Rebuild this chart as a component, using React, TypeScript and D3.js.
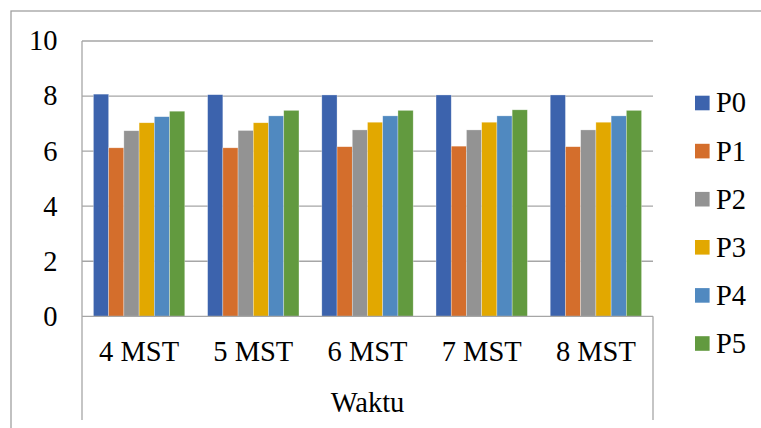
import React from "react";
import * as d3 from "d3";

const categories = ["4 MST", "5 MST", "6 MST", "7 MST", "8 MST"];
const seriesNames = ["P0", "P1", "P2", "P3", "P4", "P5"];
const P0 = [8.07, 8.05, 8.04, 8.04, 8.04];
const P1 = [6.12, 6.12, 6.16, 6.18, 6.16];
const P2 = [6.74, 6.75, 6.77, 6.77, 6.77];
const P3 = [7.03, 7.03, 7.05, 7.05, 7.05];
const P4 = [7.25, 7.28, 7.28, 7.28, 7.28];
const P5 = [7.45, 7.48, 7.48, 7.5, 7.48];
const seriesValues = [P0, P1, P2, P3, P4, P5];
const colors = ["#3C63AD", "#D46E2C", "#939393", "#E2A800", "#5089C0", "#629A3F"];
const yTicks = [0, 2, 4, 6, 8, 10];
const axisTitle = "Waktu";

const W = 761;
const H = 428;
const left = 82;
const right = 653;
const top = 41;
const bottom = 316.3;
const axisBoxBottom = 420;
const textStyle = { fontFamily: "'Liberation Serif', 'DejaVu Serif', serif" } as React.CSSProperties;
const fs = 28.5;
const gridColor = "#a6a6a6";

export default function App() {
  const y = d3.scaleLinear().domain([0, 10]).range([bottom, top]);
  const x0 = d3.scaleBand<string>().domain(categories).range([left, right]).paddingInner(0.2).paddingOuter(0.1);
  const x1 = d3.scaleBand<string>().domain(seriesNames).range([0, x0.bandwidth()]);
  const legendY = d3.scalePoint<string>().domain(seriesNames).range([103, 343.5]);

  return (
    <svg width={W} height={H} style={{ position: "absolute", left: 0, top: 0 }}>
      <rect x={0} y={0} width={W} height={H} fill="#fff" />
      <rect x={11} y={11} width={W + 10} height={H + 10} fill="none" stroke="#a0a0a0" strokeWidth={1.3} />
      {yTicks.map((t) => (
        <g key={t}>
          {t > 0 && <line x1={left} x2={right} y1={y(t)} y2={y(t)} stroke={gridColor} strokeWidth={1.3} />}
          <text x={57.5} y={y(t)} dy="0.33em" textAnchor="end" style={textStyle} fontSize={fs} fill="#000">
            {t}
          </text>
        </g>
      ))}
      {categories.map((c, i) => (
        <g key={c}>
          {seriesNames.map((s, j) => (
            <rect
              key={s}
              x={(x0(c) as number) + (x1(s) as number)}
              y={y(seriesValues[j][i])}
              width={x1.bandwidth()}
              height={y(0) - y(seriesValues[j][i])}
              fill={colors[j]}
              stroke="#ffffff"
              strokeOpacity={0.5}
              strokeWidth={0.6}
            />
          ))}
          <text
            x={(x0(c) as number) + x0.bandwidth() / 2}
            y={360.5}
            textAnchor="middle"
            style={textStyle}
            fontSize={fs}
            fill="#000"
          >
            {c}
          </text>
        </g>
      ))}
      <line x1={left} x2={right} y1={bottom} y2={bottom} stroke={gridColor} strokeWidth={1.3} />
      <line x1={left} x2={left} y1={top} y2={axisBoxBottom} stroke={gridColor} strokeWidth={1.3} />
      <line x1={right} x2={right} y1={bottom} y2={axisBoxBottom} stroke={gridColor} strokeWidth={1.3} />
      <text x={(left + right) / 2} y={412} textAnchor="middle" style={textStyle} fontSize={fs} fill="#000">
        {axisTitle}
      </text>
      {seriesNames.map((s, j) => (
        <g key={s}>
          <rect x={695} y={(legendY(s) as number) - 7.3} width={14.6} height={14.6} fill={colors[j]} />
          <text x={716} y={legendY(s) as number} dy="0.33em" style={textStyle} fontSize={fs} fill="#000">
            {s}
          </text>
        </g>
      ))}
    </svg>
  );
}
